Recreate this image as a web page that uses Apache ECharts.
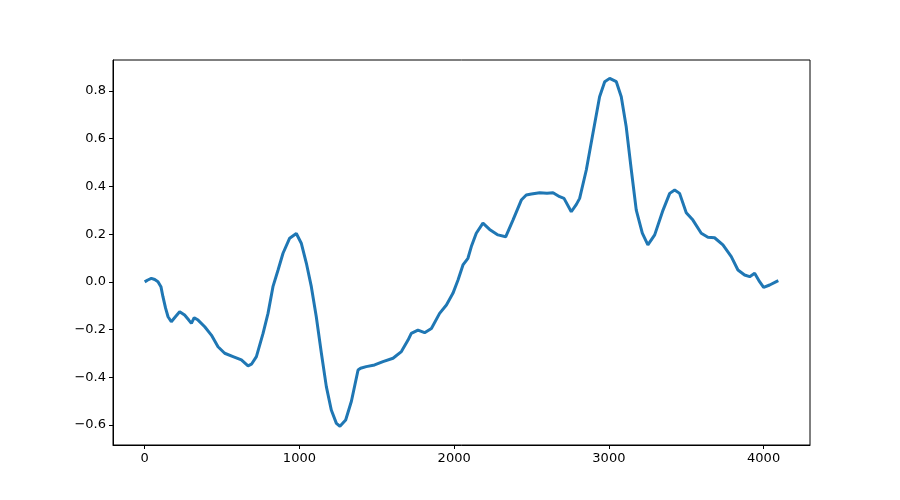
<!DOCTYPE html>
<html>
<head>
<meta charset="utf-8">
<script src="https://cdn.jsdelivr.net/npm/echarts@6/dist/echarts.min.js"></script>
<style>html,body{margin:0;padding:0;background:#fff}#c{width:900px;height:500px}</style>
</head>
<body>
<div id="c"></div>
<script>
const xs = [0,20,43,65,86,105,118,135,151,172,200,226,258,285,302,320,345,388,431,474,517,571,625,668,690,722,765,797,829,862,894,937,980,1012,1045,1077,1109,1142,1174,1206,1239,1262,1299,1336,1379,1395,1432,1486,1540,1605,1659,1702,1723,1766,1809,1853,1906,1950,1992,2025,2057,2089,2111,2143,2186,2229,2283,2333,2380,2434,2466,2499,2553,2600,2639,2682,2710,2757,2790,2811,2854,2897,2940,2973,3005,3048,3080,3112,3145,3177,3216,3252,3296,3350,3393,3425,3457,3500,3543,3597,3640,3683,3737,3791,3834,3877,3910,3942,3974,4000,4039,4082,4095];
const ys = [0.000,0.008,0.015,0.010,0.001,-0.020,-0.062,-0.110,-0.146,-0.167,-0.145,-0.125,-0.139,-0.160,-0.174,-0.150,-0.160,-0.188,-0.223,-0.272,-0.299,-0.313,-0.327,-0.352,-0.345,-0.313,-0.216,-0.132,-0.020,0.050,0.120,0.183,0.203,0.162,0.078,-0.020,-0.146,-0.299,-0.439,-0.537,-0.593,-0.605,-0.579,-0.500,-0.369,-0.362,-0.355,-0.348,-0.334,-0.320,-0.292,-0.244,-0.216,-0.202,-0.213,-0.195,-0.132,-0.097,-0.048,0.008,0.071,0.099,0.148,0.204,0.246,0.220,0.197,0.189,0.259,0.343,0.364,0.368,0.374,0.372,0.374,0.357,0.350,0.294,0.325,0.350,0.469,0.623,0.776,0.839,0.853,0.839,0.776,0.650,0.469,0.301,0.204,0.155,0.197,0.301,0.371,0.385,0.371,0.290,0.259,0.204,0.187,0.185,0.155,0.106,0.050,0.029,0.022,0.036,0.001,-0.023,-0.013,0.001,0.005];
const xTicks = [0,1000,2000,3000,4000];
const yTicks = [-0.6,-0.4,-0.2,0.0,0.2,0.4,0.6,0.8];

const chart = echarts.init(document.getElementById('c'), null, {renderer:'canvas'});
const font = {fontFamily:'DejaVu Sans', fontSize:13, color:'#000'};
chart.setOption({
  animation:false,
  backgroundColor:'#fff',
  grid:{left:113,right:90,top:60,bottom:55,show:true,borderColor:'#000',borderWidth:1,backgroundColor:'transparent'},
  xAxis:{type:'value',min:-204.75,max:4299.75,
    axisLine:{show:true,onZero:false,lineStyle:{color:'#000',width:1}},
    axisTick:{show:true,inside:false,length:4,customValues:xTicks,lineStyle:{color:'#000'}},
    axisLabel:Object.assign({margin:7,customValues:xTicks,formatter:v=>String(v)},font),
    splitLine:{show:false}},
  yAxis:{type:'value',min:-0.6836,max:0.930,
    axisLine:{show:true,onZero:false,lineStyle:{color:'#000',width:1}},
    axisTick:{show:true,inside:false,length:4,customValues:yTicks,lineStyle:{color:'#000'}},
    axisLabel:Object.assign({margin:7,customValues:yTicks,formatter:v=>v.toFixed(1).replace('-','\u2212')},font),
    splitLine:{show:false}},
  series:[{type:'line',data:xs.map((x,i)=>[x,ys[i]]),showSymbol:false,
    lineStyle:{color:'#1f77b4',width:3},itemStyle:{color:'#1f77b4'}}]
});
</script>
</body>
</html>
